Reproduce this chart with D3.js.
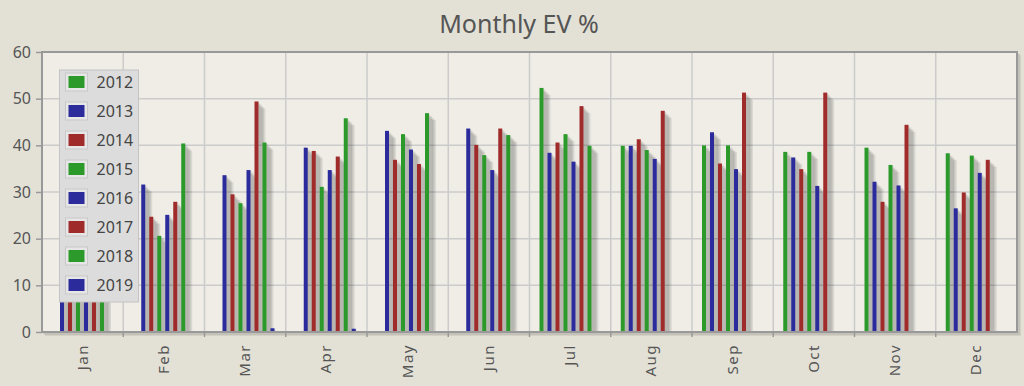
<!DOCTYPE html>
<html>
<head>
<meta charset="utf-8">
<script src="https://cdn.jsdelivr.net/npm/d3@7"></script>
<style>
  html, body { margin: 0; padding: 0; background: #e3e1d6; }
  svg { display: block; }
  text { font-family: "Noto Sans", "DejaVu Sans", sans-serif; }
</style>
</head>
<body>
<div id="chart"></div>
<script>
// chart data
const months = ["Jan", "Feb", "Mar", "Apr", "May", "Jun", "Jul", "Aug", "Sep", "Oct", "Nov", "Dec"];
const years = ["2012", "2013", "2014", "2015", "2016", "2017", "2018", "2019"];
const yTicks = [0, 10, 20, 30, 40, 50, 60];

const v2012 = [null, null, null, null, null, null, 52.3, 39.9, 40.0, 38.6, 39.5, 38.3];
const v2013 = [28.0, 31.6, 33.6, 39.5, 43.1, 43.6, 38.4, 39.9, 42.8, 37.4, 32.2, 26.5];
const v2014 = [25.0, 24.7, 29.5, 38.8, 36.9, 40.1, 40.6, 41.3, 36.1, 34.9, 27.9, 29.9];
const v2015 = [21.0, 20.6, 27.6, 31.1, 42.4, 37.9, 42.4, 39.0, 40.0, 38.6, 35.8, 37.8];
const v2016 = [27.0, 25.1, 34.7, 34.7, 39.1, 34.7, 36.5, 37.1, 34.9, 31.3, 31.4, 34.1];
const v2017 = [29.0, 27.9, 49.4, 37.6, 36.0, 43.6, 48.4, 47.4, 51.3, 51.3, 44.4, 36.9];
const v2018 = [33.0, 40.4, 40.6, 45.8, 46.9, 42.2, 39.9, null, null, null, null, null];
const v2019 = [null, null, 0.8, 0.7, null, null, null, null, null, null, null, null];

const seriesValues = [v2012, v2013, v2014, v2015, v2016, v2017, v2018, v2019];
const colors = ["#2b9a2b", "#2b2b9c", "#a02b2b", "#2b9a2b", "#2b2b9c", "#a02b2b", "#2b9a2b", "#2b2b9c"];

const W = 1024, H = 386;
const margin = { top: 52, right: 7, bottom: 54, left: 42 };
const width = W - margin.left - margin.right;
const height = H - margin.top - margin.bottom;

const svg = d3.select("#chart").append("svg")
  .attr("width", W)
  .attr("height", H);

svg.append("text")
  .attr("x", 519)
  .attr("y", 33)
  .attr("text-anchor", "middle")
  .attr("font-size", 25)
  .attr("fill", "#555")
  .text("Monthly EV %");

const g = svg.append("g")
  .attr("transform", "translate(" + margin.left + "," + margin.top + ")");

const x0 = d3.scaleBand().domain(months).range([0, width]);
const x1 = d3.scaleBand().domain(years).range([8, 72]);
const y = d3.scaleLinear().domain([0, 60]).range([height, 0]);

// border shadow
for (let j = 1; j <= 3; j++) {
  g.append("path")
    .attr("d", "M" + (j) + "," + (height + j) + "H" + (width + j) + "V" + (j))
    .attr("fill", "none")
    .attr("stroke", "rgba(0,0,0,0.07)")
    .attr("stroke-width", 2);
}

// plot background
g.append("rect")
  .attr("width", width)
  .attr("height", height)
  .attr("fill", "#efede6");

// grid
g.append("g").selectAll("line")
  .data(yTicks.slice(1, -1))
  .join("line")
  .attr("x1", 0).attr("x2", width)
  .attr("y1", d => y(d)).attr("y2", d => y(d))
  .attr("stroke", "#cbcbcb")
  .attr("stroke-width", 1.5);

g.append("g").selectAll("line")
  .data(months.slice(1))
  .join("line")
  .attr("x1", d => x0(d)).attr("x2", d => x0(d))
  .attr("y1", 0).attr("y2", height)
  .attr("stroke", "#cbcbcb")
  .attr("stroke-width", 1.5);

// bars
const bars = [];
seriesValues.forEach((vals, si) => {
  vals.forEach((v, mi) => {
    if (v !== null) bars.push({ month: months[mi], year: years[si], value: v, color: colors[si] });
  });
});

g.append("clipPath").attr("id", "plotclip")
  .append("rect").attr("width", width).attr("height", height);

const shadows = g.append("g").attr("clip-path", "url(#plotclip)");
for (let j = 1; j <= 5; j++) {
  shadows.append("g").selectAll("rect")
    .data(bars)
    .join("rect")
    .attr("x", d => x0(d.month) + x1(d.year) + 2 + j * 1.4)
    .attr("y", d => y(d.value) + j * 1.4)
    .attr("width", 4)
    .attr("height", d => height - y(d.value))
    .attr("fill", "rgba(0,0,0,0.085)");
}

g.append("g").selectAll("rect")
  .data(bars)
  .join("rect")
  .attr("x", d => x0(d.month) + x1(d.year) + 2)
  .attr("y", d => y(d.value))
  .attr("width", 4)
  .attr("height", d => height - y(d.value))
  .attr("fill", d => d.color);

// border
g.append("rect")
  .attr("width", width)
  .attr("height", height)
  .attr("fill", "none")
  .attr("stroke", "#999")
  .attr("stroke-width", 2);

// y axis
const yAxis = g.append("g")
  .call(d3.axisLeft(y).tickValues(yTicks).tickSize(6).tickPadding(5));
yAxis.select(".domain").remove();
yAxis.selectAll("line").attr("stroke", "#999").attr("stroke-width", 1.5);
yAxis.selectAll("text")
  .attr("font-size", 16)
  .attr("fill", "#555")
  .attr("font-family", "\"Noto Sans\", sans-serif");

// x axis
const xAxis = g.append("g")
  .attr("transform", "translate(0," + height + ")");
xAxis.selectAll("line")
  .data(months.slice(1))
  .join("line")
  .attr("x1", d => x0(d)).attr("x2", d => x0(d))
  .attr("y1", 0).attr("y2", 5)
  .attr("stroke", "#999")
  .attr("stroke-width", 1.5);
xAxis.selectAll("text")
  .data(months)
  .join("text")
  .attr("transform", d => "translate(" + (x0(d) + x0.bandwidth() / 2 + 5) + ",12) rotate(-90)")
  .attr("text-anchor", "end")
  .attr("font-size", 15)
  .attr("letter-spacing", 1.5)
  .attr("fill", "#555")
  .text(d => d);

// legend
const legend = g.append("g").attr("transform", "translate(17.5,18)");
legend.append("rect")
  .attr("width", 79)
  .attr("height", 232)
  .attr("fill", "#dcdcdc")
  .attr("stroke", "#c4c4c4");
const items = legend.selectAll("g.item")
  .data(years)
  .join("g")
  .attr("class", "item")
  .attr("transform", (d, i) => "translate(0," + (i * 29) + ")");
items.append("rect")
  .attr("x", 6).attr("y", 3)
  .attr("width", 22).attr("height", 18)
  .attr("fill", "#e6e6e6")
  .attr("stroke", "#c8c8c8");
items.append("rect")
  .attr("x", 9).attr("y", 6)
  .attr("width", 16).attr("height", 12)
  .attr("fill", (d, i) => colors[i]);
items.append("text")
  .attr("x", 37).attr("y", 18)
  .attr("font-size", 16)
  .attr("fill", "#444")
  .text(d => d);
</script>
</body>
</html>
